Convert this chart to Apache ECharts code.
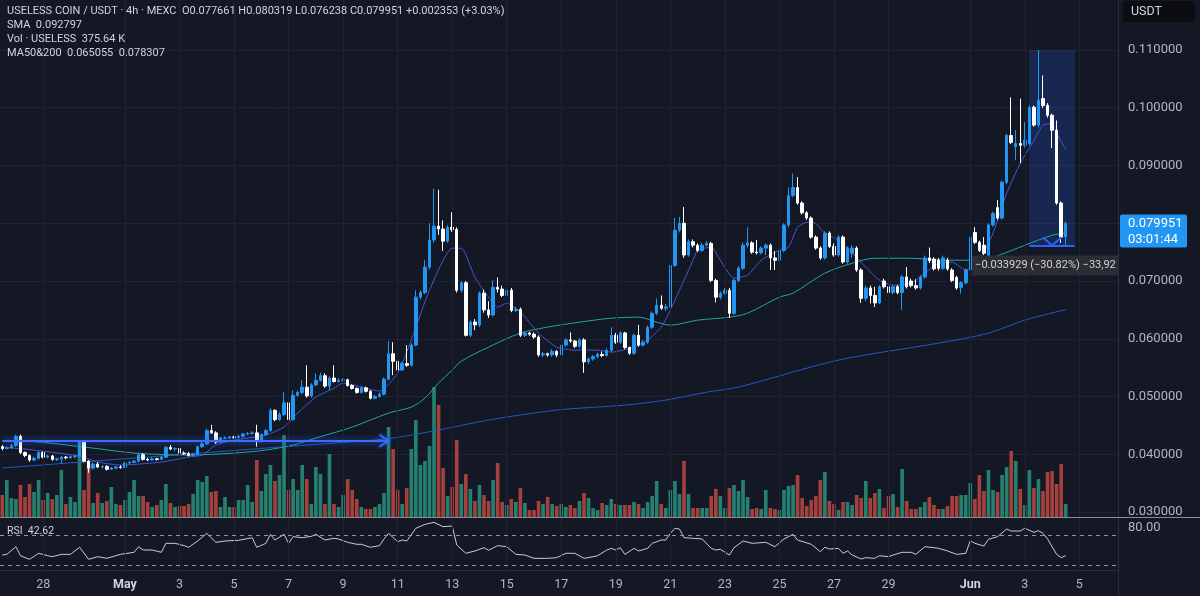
<!DOCTYPE html>
<html><head><meta charset="utf-8">
<script src="https://cdn.jsdelivr.net/npm/echarts@6/dist/echarts.min.js"></script>
<style>html,body{margin:0;padding:0;background:#141824;}#c{width:1200px;height:596px;}</style>
</head><body><div id="c"></div>
<script>
// ---- time axis ----
const startTime = Date.UTC(2025, 3, 26, 12); // first bar: Apr 26 12:00
const barHours = 4;
const emptyBarsRight = 11;
const tickDates  = ['04-28 00:00','05-01 00:00','05-03 00:00','05-05 00:00','05-07 00:00','05-09 00:00','05-11 00:00','05-13 00:00','05-15 00:00','05-17 00:00','05-19 00:00','05-21 00:00','05-23 00:00','05-25 00:00','05-27 00:00','05-29 00:00','06-01 00:00','06-03 00:00','06-05 00:00'];
const tickLabels = ['28','May','3','5','7','9','11','13','15','17','19','21','23','25','27','29','Jun','3','5'];
const priceTicks = {min:0.03, max:0.11, step:0.01};

// ---- candles (4h) ----
const opens = [
.0413,.0410,.0411,.0415,.0431,.0403,.0398,.0390,.0393,.0403,
.0395,.0397,.0391,.0392,.0395,.0394,.0396,.0397,.0421,.0388,
.0376,.0383,.0378,.0379,.0374,.0376,.0378,.0377,.0385,.0386,
.0388,.0399,.0391,.0390,.0392,.0391,.0395,.0412,.0409,.0410,
.0402,.0401,.0398,.0400,.0413,.0418,.0441,.0437,.0421,.0428,
.0428,.0430,.0429,.0431,.0435,.0436,.0437,.0422,.0434,.0441,
.0476,.0460,.0469,.0489,.0460,.0502,.0507,.0516,.0501,.0520,
.0528,.0536,.0518,.0532,.0526,.0528,.0529,.0519,.0514,.0507,
.0515,.0509,.0497,.0500,.0504,.0530,.0574,.0561,.0546,.0557,
.0554,.0589,.0672,.0680,.0724,.0771,.0795,.0790,.0769,.0793,
.0789,.0684,.0697,.0606,.0629,.0624,.0679,.0650,.0641,.0689,
.0686,.0675,.0684,.0649,.0651,.0606,.0610,.0608,.0603,.0572,
.0574,.0572,.0578,.0572,.0589,.0598,.0596,.0587,.0598,.0560,
.0565,.0569,.0573,.0571,.0580,.0606,.0594,.0610,.0585,.0575,
.0606,.0589,.0594,.0620,.0644,.0658,.0653,.0655,.0727,.0788,
.0800,.0745,.0768,.0762,.0753,.0762,.0765,.0701,.0672,.0679,
.0684,.0644,.0701,.0722,.0762,.0766,.0750,.0749,.0757,.0762,
.0740,.0736,.0753,.0797,.0848,.0862,.0835,.0818,.0809,.0776,
.0757,.0740,.0783,.0760,.0745,.0776,.0733,.0748,.0757,.0719,
.0670,.0688,.0675,.0662,.0700,.0690,.0680,.0690,.0680,.0707,
.0700,.0692,.0688,.0707,.0740,.0738,.0736,.0722,.0736,.0719,
.0706,.0689,.0697,.0719,.0784,.0767,.0762,.0743,.0797,.0827,
.0809,.0871,.0952,.0933,.0938,.0935,.0938,.1001,.0970,.1016,
.1004,.0987,.0961,.0835,.077661];
const closes = [
.0410,.0411,.0415,.0431,.0403,.0398,.0390,.0393,.0403,.0395,
.0397,.0391,.0392,.0395,.0394,.0396,.0397,.0421,.0388,.0376,
.0383,.0378,.0379,.0374,.0376,.0378,.0377,.0385,.0386,.0388,
.0399,.0391,.0390,.0392,.0391,.0395,.0412,.0409,.0410,.0402,
.0401,.0398,.0400,.0413,.0418,.0441,.0437,.0421,.0428,.0428,
.0430,.0429,.0431,.0435,.0436,.0437,.0422,.0434,.0441,.0476,
.0460,.0469,.0489,.0460,.0502,.0507,.0516,.0501,.0520,.0528,
.0536,.0518,.0532,.0526,.0528,.0529,.0519,.0514,.0507,.0515,
.0509,.0497,.0500,.0504,.0530,.0574,.0561,.0546,.0557,.0554,
.0589,.0672,.0680,.0724,.0771,.0795,.0790,.0769,.0793,.0789,
.0684,.0697,.0606,.0629,.0624,.0679,.0650,.0641,.0689,.0686,
.0675,.0684,.0649,.0651,.0606,.0610,.0608,.0603,.0572,.0574,
.0572,.0578,.0572,.0589,.0598,.0596,.0587,.0598,.0560,.0565,
.0569,.0573,.0571,.0580,.0606,.0594,.0610,.0585,.0575,.0606,
.0589,.0594,.0620,.0644,.0658,.0653,.0655,.0727,.0788,.0800,
.0745,.0768,.0762,.0753,.0762,.0765,.0701,.0672,.0679,.0684,
.0644,.0701,.0722,.0762,.0766,.0750,.0749,.0757,.0762,.0740,
.0736,.0753,.0797,.0848,.0862,.0835,.0818,.0809,.0776,.0757,
.0740,.0783,.0760,.0745,.0776,.0733,.0757,.0757,.0719,.0670,
.0688,.0675,.0662,.0690,.0690,.0680,.0690,.0680,.0707,.0690,
.0692,.0688,.0707,.0740,.0735,.0721,.0722,.0740,.0721,.0701,
.0688,.0697,.0719,.0776,.0767,.0753,.0748,.0797,.0817,.0809,
.0871,.0952,.0940,.0938,.0935,.0944,.1001,.0970,.1013,.1004,
.0987,.0961,.0835,.0776,.079951];
const lows = [
.0407,.0408,.0409,.0413,.0400,.0395,.0387,.0388,.0391,.0393,
.0393,.0389,.0388,.0384,.0391,.0392,.0393,.0395,.0386,.0368,
.0374,.0376,.0375,.0372,.0373,.0374,.0375,.0376,.0383,.0384,
.0386,.0389,.0388,.0389,.0389,.0390,.0393,.0407,.0405,.0400,
.0399,.0396,.0396,.0398,.0411,.0416,.0435,.0418,.0419,.0426,
.0427,.0427,.0428,.0429,.0433,.0434,.0413,.0420,.0432,.0439,
.0457,.0458,.0466,.0456,.0458,.0500,.0504,.0498,.0498,.0518,
.0526,.0515,.0511,.0524,.0524,.0526,.0517,.0512,.0505,.0505,
.0507,.0495,.0495,.0498,.0502,.0528,.0537,.0543,.0544,.0551,
.0552,.0587,.0668,.0677,.0720,.0766,.0780,.0752,.0766,.0785,
.0680,.0680,.0604,.0603,.0615,.0620,.0645,.0636,.0638,.0680,
.0672,.0672,.0646,.0646,.0603,.0603,.0605,.0600,.0569,.0568,
.0569,.0569,.0568,.0569,.0586,.0593,.0584,.0584,.0541,.0556,
.0562,.0566,.0568,.0569,.0577,.0591,.0591,.0582,.0572,.0572,
.0586,.0586,.0591,.0617,.0641,.0650,.0648,.0652,.0724,.0784,
.0740,.0742,.0758,.0750,.0750,.0760,.0698,.0663,.0668,.0676,
.0636,.0641,.0698,.0719,.0758,.0747,.0746,.0746,.0745,.0719,
.0719,.0733,.0750,.0793,.0845,.0832,.0815,.0806,.0773,.0754,
.0737,.0737,.0757,.0742,.0742,.0730,.0730,.0740,.0716,.0662,
.0665,.0661,.0655,.0660,.0687,.0677,.0677,.0677,.0650,.0687,
.0689,.0685,.0685,.0704,.0731,.0718,.0718,.0719,.0718,.0698,
.0685,.0678,.0694,.0716,.0764,.0750,.0745,.0740,.0794,.0806,
.0806,.0868,.0937,.0909,.0904,.0931,.0935,.0967,.0966,.1000,
.0983,.0930,.0832,.0766,.076238];
const highs = [
.0416,.0414,.0418,.0434,.0434,.0405,.0400,.0396,.0405,.0405,
.0399,.0399,.0394,.0397,.0397,.0398,.0399,.0424,.0423,.0390,
.0386,.0386,.0381,.0381,.0378,.0380,.0381,.0387,.0388,.0390,
.0401,.0402,.0394,.0395,.0394,.0397,.0414,.0416,.0412,.0411,
.0405,.0404,.0402,.0415,.0421,.0444,.0451,.0440,.0430,.0431,
.0432,.0432,.0433,.0437,.0439,.0440,.0451,.0436,.0444,.0480,
.0478,.0473,.0508,.0491,.0511,.0510,.0528,.0554,.0523,.0540,
.0541,.0540,.0535,.0554,.0532,.0532,.0531,.0521,.0516,.0517,
.0517,.0511,.0503,.0507,.0533,.0596,.0594,.0565,.0560,.0589,
.0592,.0684,.0684,.0736,.0800,.0860,.0858,.0805,.0797,.0819,
.0793,.0700,.0700,.0632,.0634,.0682,.0685,.0665,.0701,.0706,
.0692,.0688,.0688,.0655,.0654,.0613,.0612,.0611,.0606,.0577,
.0576,.0582,.0580,.0591,.0601,.0611,.0598,.0601,.0601,.0568,
.0572,.0576,.0578,.0583,.0620,.0610,.0613,.0612,.0586,.0609,
.0624,.0598,.0623,.0647,.0670,.0675,.0660,.0731,.0809,.0811,
.0828,.0772,.0772,.0765,.0766,.0769,.0768,.0704,.0682,.0688,
.0688,.0704,.0726,.0767,.0793,.0769,.0771,.0760,.0765,.0765,
.0752,.0756,.0800,.0862,.0886,.0880,.0838,.0821,.0812,.0779,
.0760,.0786,.0786,.0765,.0779,.0779,.0760,.0762,.0760,.0722,
.0692,.0692,.0690,.0693,.0704,.0693,.0693,.0693,.0710,.0724,
.0704,.0703,.0710,.0744,.0758,.0741,.0740,.0744,.0740,.0722,
.0709,.0700,.0722,.0779,.0793,.0770,.0776,.0800,.0820,.0840,
.0874,.0955,.1018,.0961,.1016,.0975,.1004,.1004,.1100,.1056,
.1008,.0990,.0978,.0838,.080319];
// volume in thousands
const volumesK = [
638,1073,551,522,928,580,957,725,1073,493,
696,522,638,1363,377,580,435,2204,783,1595,
406,696,406,464,870,377,348,493,725,1073,
609,609,435,290,348,493,957,406,290,319,
319,377,667,1073,1015,1189,725,754,290,580,
290,290,493,493,928,435,1653,754,1247,1508,
1044,1218,2378,783,1102,783,1508,1102,377,1450,
1247,377,1827,377,290,638,1102,783,522,290,
232,232,290,377,696,2610,1972,783,377,841,
1972,2813,1508,1624,2059,3770,3248,1421,609,870,
2233,957,1247,812,464,928,638,464,1073,1566,
435,348,522,435,841,406,203,203,464,377,
580,377,319,377,290,348,261,464,696,551,
261,203,406,348,522,377,348,348,348,435,
377,261,435,609,1044,377,261,783,1044,667,
1624,667,261,261,261,261,609,812,609,261,
841,928,754,1073,580,232,261,232,783,261,
232,203,783,899,928,1218,551,319,493,609,
1073,1305,464,377,203,435,435,348,638,551,
1044,551,696,812,261,609,667,290,1392,464,
232,232,290,435,580,348,232,232,319,609,
609,638,638,986,522,1218,754,1363,783,725,
1218,1450,1914,1624,812,348,1363,841,1102,754,
1305,1334,957,1537,375.64];

// ---- indicators: [bar number, value] ----
const smaShort = [[0,0.0412],[5,0.0409],[17,0.03969],[21,0.03865],[26,0.03813],[35,0.03865],[41,0.03952],[44,0.03986],[47,0.04159],[51,0.04246],[58,0.04332],[62,0.04471],[65,0.04713],[69,0.0499],[73,0.05145],[75,0.05232],[80,0.05145],[83,0.05093],[87,0.05405],[90,0.05976],[94,0.06841],[99,0.07567],[101,0.07567],[104,0.07066],[107,0.0672],[109,0.06547],[111,0.06616],[114,0.0646],[118,0.06097],[122,0.05855],[126,0.05803],[131,0.05803],[134,0.05768],[139,0.05855],[142,0.05976],[145,0.06201],[147,0.06495],[149,0.06841],[152,0.0736],[153,0.07533],[156,0.07585],[158,0.0736],[161,0.07048],[164,0.071],[167,0.0736],[171,0.07533],[173,0.07585],[175,0.07931],[177,0.08017],[179,0.08],[181,0.07827],[184,0.07706],[187,0.07481],[190,0.07239],[193,0.07014],[196,0.06927],[200,0.06962],[203,0.07135],[206,0.07308],[209,0.07325],[212,0.07187],[215,0.0736],[218,0.07827],[221,0.08519],[224,0.09038],[227,0.09436],[229,0.09696],[231,0.0973],[232,0.09557],[234,0.092797]];
const ma50 = [[0,0.04228],[4,0.04228],[18,0.04125],[29,0.04021],[41,0.03986],[51,0.04021],[58,0.04073],[64,0.04159],[69,0.0428],[77,0.04471],[85,0.04713],[90,0.04817],[93,0.04972],[96,0.05232],[99,0.05457],[101,0.05612],[107,0.05855],[114,0.06097],[120,0.06201],[127,0.06287],[134,0.06356],[140,0.06374],[144,0.06287],[147,0.06235],[153,0.06322],[160,0.06374],[164,0.06443],[171,0.0672],[174,0.06789],[181,0.07135],[187,0.07308],[192,0.07394],[200,0.07394],[207,0.0736],[214,0.0736],[218,0.07412],[225,0.07619],[231,0.07792],[234,0.078307]];
const ma200 = [[0,0.03762],[29,0.03934],[58,0.04107],[73,0.04194],[85,0.04272],[96,0.04419],[107,0.04592],[122,0.04765],[137,0.04851],[146,0.04938],[155,0.05076],[162,0.05163],[184,0.0563],[206,0.05924],[217,0.06097],[225,0.06322],[234,0.065055]];
const rsi = [[0,43.3],[1,44.2],[3,54.4],[4,42.4],[6,37.6],[8,45.6],[10,42.4],[11,41.1],[13,44.2],[15,44.2],[17,53.6],[19,37.6],[21,41.1],[23,38.9],[25,42.4],[26,44.2],[29,46.9],[30,54.4],[31,50.0],[33,50.0],[35,46.9],[36,58.9],[38,58.9],[40,55.8],[41,53.6],[43,62.0],[45,72.2],[47,60.2],[49,62.0],[52,62.9],[55,66.4],[56,53.6],[58,58.9],[59,70.9],[60,63.3],[62,70.9],[63,58.9],[64,67.8],[66,66.4],[68,68.2],[69,70.9],[71,63.3],[73,65.6],[74,64.7],[76,60.2],[78,57.6],[79,57.6],[81,53.6],[83,55.8],[84,64.7],[85,72.2],[87,61.1],[88,63.3],[89,62.0],[91,78.9],[93,84.2],[95,86.9],[97,81.1],[99,82.0],[100,56.7],[102,45.6],[104,48.7],[106,53.1],[107,49.6],[109,55.8],[111,54.4],[113,44.2],[115,43.3],[117,38.9],[120,38.9],[122,39.8],[124,45.6],[126,45.6],[128,38.9],[130,41.1],[131,42.4],[133,50.0],[134,52.2],[135,50.0],[136,53.1],[137,44.2],[139,52.2],[140,48.7],[142,52.2],[143,58.9],[145,63.3],[146,63.3],[147,72.2],[148,78.9],[149,78.0],[150,66.4],[152,65.6],[154,64.7],[156,52.2],[157,50.0],[158,50.9],[160,43.3],[161,53.1],[163,62.0],[165,58.9],[168,60.2],[170,54.4],[172,64.7],[174,70.9],[175,63.3],[178,57.6],[180,47.8],[181,53.6],[182,51.3],[184,52.2],[185,45.6],[186,48.7],[187,43.3],[189,38.0],[190,39.8],[192,38.9],[193,42.4],[195,41.1],[196,43.3],[198,46.9],[200,46.9],[201,44.2],[203,54.4],[205,53.1],[206,52.2],[208,48.7],[210,44.2],[212,45.6],[213,62.4],[214,58.9],[216,55.3],[217,64.2],[219,67.8],[221,78.0],[222,75.3],[224,75.3],[225,78.9],[227,73.6],[228,75.8],[229,72.2],[230,64.7],[232,44.2],[233,39.8],[234,42.62]];
const rsiBands = [70, 30];

// ---- drawings (in bar numbers / prices) ----
const rangeTool = {from:226, to:236, mid:231, headL:229, headR:233, top:0.110085, bottom:0.076156};
const hArrow = {from:0, to:85, head:83, price:0.04234};
const headSize = {price:0.00104, range:0.00139};

// ---- legend texts ----
const symbolTitle = 'USELESS COIN / USDT · 4h · MEXC';
const ohlc = {O:'0.077661', H:'0.080319', L:'0.076238', C:'0.079951', chg:'+0.002353 (+3.03%)'};
const smaLabel = ['SMA','0.092797'];
const volLabel = ['Vol · USELESS','375.64 K'];
const maLabel = ['MA50&200','0.065055','0.078307'];
const rsiLabel = ['RSI','42.62'];
const rangeText = '\u22120.033929 (\u221230.82%) \u221233,92';
const lastPrice = 0.079951, countdown = '03:01:44';

// ---- build ----
const pad = n => String(n).padStart(2,'0');
const categories = [];
for (let i = 0; i < opens.length + emptyBarsRight; i++) {
  const d = new Date(startTime + i * barHours * 3600e3);
  categories.push(pad(d.getUTCMonth()+1) + '-' + pad(d.getUTCDate()) + ' ' + pad(d.getUTCHours()) + ':00');
}
const candles = opens.map((o,i) => [o, closes[i], lows[i], highs[i]]);
const UP = '#2196f3', DOWN = '#ffffff';
const volData = volumesK.map((v,i) => ({value:v, itemStyle:{color: closes[i] >= opens[i] ? '#26806f' : '#a4403d'}}));

const FONT = 'Roboto, "Liberation Sans", sans-serif';
const chart = echarts.init(document.getElementById('c'), null, {renderer:'canvas'});

const xa = k => ({
  type:'category', gridIndex:k, data:categories, boundaryGap:true, show:k===3,
  axisLine:{show:false}, axisTick:{show:false}, splitLine:{show:false},
  axisLabel: k===3 ? {
    interval:(idx,val) => tickDates.indexOf(val) >= 0,
    margin:8,
    formatter: val => { const t = tickLabels[tickDates.indexOf(val)]; return /^[A-Z]/.test(t) ? '{m|'+t+'}' : '{d|'+t+'}'; },
    rich:{m:{fontWeight:'bold', color:'#d1d4dc', fontSize:12.5, fontFamily:FONT}, d:{color:'#b2b5be', fontSize:12.5, fontFamily:FONT}}
  } : {show:false}
});

const seg = (a, b, style) => [{coord:a, lineStyle:style}, {coord:b}];
const blue = {color:'#2962ff', width:2, type:'solid'};
const glow = {color:'#3b6dff', width:2, type:'solid', shadowBlur:6, shadowColor:'rgba(41,98,255,0.9)'};

const option = {
  animation:false,
  backgroundColor:'#141824',
  textStyle:{fontFamily:FONT},
  grid:[
    {left:0, right:82, top:50, height:462},
    {left:0, right:82, top:380, height:137},
    {left:0, right:82, top:512.5, height:60},
    {left:0, right:82, top:0, height:570}
  ],
  xAxis:[xa(0), xa(1), xa(2), xa(3)],
  yAxis:[
    {gridIndex:0, type:'value', position:'right', min:priceTicks.min, max:priceTicks.max, interval:priceTicks.step,
     axisLine:{show:false}, axisTick:{show:false}, splitLine:{lineStyle:{color:'#1f2331'}},
     axisLabel:{color:'#b2b5be', fontSize:13, margin:10, fontFamily:FONT, formatter:v => v.toFixed(6)}},
    {gridIndex:1, type:'value', min:0, max:3973, show:false},
    {gridIndex:2, type:'value', position:'right', min:20, max:100, interval:20,
     axisLine:{show:false}, axisTick:{show:false}, splitLine:{show:false},
     axisLabel:{color:'#b2b5be', fontSize:13, margin:10, fontFamily:FONT, formatter:v => v === 80 ? '80.00' : ''}},
    {gridIndex:3, type:'value', min:0, max:1, show:false}
  ],
  series:[
    {type:'line', xAxisIndex:3, yAxisIndex:3, data:[], z:0, silent:true,
     markLine:{silent:true, symbol:['none','none'], label:{show:false}, emphasis:{disabled:true},
       lineStyle:{color:'#1f2331', type:'solid', width:1}, data: tickDates.map(d => ({xAxis:d}))}},
    {type:'bar', xAxisIndex:1, yAxisIndex:1, data:volData, barWidth:'80%', z:1, silent:true},
    {type:'line', xAxisIndex:0, yAxisIndex:0, data:ma200, showSymbol:false, smooth:0.3, z:2, silent:true,
     lineStyle:{color:'#2655c4', width:1}},
    {type:'line', xAxisIndex:0, yAxisIndex:0, data:ma50, showSymbol:false, smooth:0.3, z:2, silent:true,
     lineStyle:{color:'#22a69e', width:1}},
    {type:'line', xAxisIndex:0, yAxisIndex:0, data:smaShort, showSymbol:false, smooth:0.2, z:2, silent:true,
     lineStyle:{color:'#4356d8', width:1}},
    {type:'candlestick', xAxisIndex:0, yAxisIndex:0, data:candles, barWidth:3, z:3, clip:false, silent:true,
     itemStyle:{color:UP, color0:DOWN, borderColor:UP, borderColor0:DOWN, borderWidth:1},
     markArea:{silent:true, itemStyle:{color:'rgba(41,98,255,0.2)'},
       data:[[{coord:[rangeTool.from, rangeTool.top]}, {coord:[rangeTool.to, rangeTool.bottom]}]]},
     markLine:{silent:true, symbol:['none','none'], label:{show:false}, emphasis:{disabled:true}, lineStyle:blue,
       data:[
         seg([hArrow.from, hArrow.price], [hArrow.to, hArrow.price], glow),
         seg([hArrow.head, hArrow.price + headSize.price], [hArrow.to, hArrow.price], glow),
         seg([hArrow.head, hArrow.price - headSize.price], [hArrow.to, hArrow.price], glow),
         seg([rangeTool.from, rangeTool.top], [rangeTool.to, rangeTool.top], blue),
         seg([rangeTool.from, rangeTool.bottom], [rangeTool.to, rangeTool.bottom], blue),
         seg([rangeTool.mid, rangeTool.top], [rangeTool.mid, rangeTool.bottom], blue),
         seg([rangeTool.headL, rangeTool.bottom + headSize.range], [rangeTool.mid, rangeTool.bottom], blue),
         seg([rangeTool.headR, rangeTool.bottom + headSize.range], [rangeTool.mid, rangeTool.bottom], blue)
       ]}},
    {type:'line', xAxisIndex:2, yAxisIndex:2, data:rsi, showSymbol:false, z:2, silent:true,
     lineStyle:{color:'#c9ccd4', width:1},
     markLine:{silent:true, symbol:['none','none'], label:{show:false}, emphasis:{disabled:true},
       lineStyle:{color:'#9598a1', type:[4,4], width:1}, data: rsiBands.map(v => ({yAxis:v}))}}
  ]
};
chart.setOption(option);

// ---- overlay texts positioned through the chart's scales ----
const yLast = chart.convertToPixel({yAxisIndex:0}, lastPrice);
const xMid = chart.convertToPixel({xAxisIndex:0}, rangeTool.mid);
const yBot = chart.convertToPixel({yAxisIndex:0}, rangeTool.bottom);
const boxL = xMid - 80;
const txt = (x, y, text, rich, extra) => ({type:'text', x, y, z:100, silent:true,
  style:Object.assign({text, rich, fontFamily:FONT, fontSize:11, fill:'#d1d4dc', verticalAlign:'middle'}, extra||{})});
const R = (c, fs) => ({color:c, fontSize:fs, fontFamily:FONT});
const lbl = '#d1d4dc';
const L = 11;
chart.setOption({graphic:[
  {type:'line', z:90, silent:true, shape:{x1:1118.5, y1:0, x2:1118.5, y2:596}, style:{stroke:'#2a2e39', lineWidth:1}},
  {type:'line', z:90, silent:true, shape:{x1:0, y1:517.5, x2:1200, y2:517.5}, style:{stroke:'#8a8d96', lineWidth:1}},
  {type:'line', z:90, silent:true, shape:{x1:0, y1:570.5, x2:1118, y2:570.5}, style:{stroke:'#2a2e39', lineWidth:1}},
  txt(7, 11, '{t|'+symbolTitle+'  O}{v|'+ohlc.O+' }{t|H}{v|'+ohlc.H+' }{t|L}{v|'+ohlc.L+' }{t|C}{v|'+ohlc.C+' '+ohlc.chg+'}',
      {t:R(lbl,L), v:R('#2196f3',L)}),
  txt(7, 25, '{t|'+smaLabel[0]+'  }{s|'+smaLabel[1]+'}', {t:R(lbl,L), s:R('#4a63dd',L)}),
  txt(7, 39, '{t|'+volLabel[0]+'  }{g|'+volLabel[1]+'}', {t:R(lbl,L), g:R('#26a69a',L)}),
  txt(7, 53, '{t|'+maLabel[0]+'  }{b|'+maLabel[1]+'  }{c|'+maLabel[2]+'}', {t:R(lbl,L), b:R('#3d6ee8',L), c:R('#26c6da',L)}),
  txt(7, 531, '{t|'+rsiLabel[0]+'  }{w|'+rsiLabel[1]+'}', {t:R('#b2b5be',10.5), w:R('#e6e8ee',10.5)}),
  {type:'rect', z:95, silent:true, shape:{x:1123, y:1, width:72, height:21, r:3}, style:{fill:'#0b0d13'}},
  txt(1131, 12, 'USDT', null, {fontSize:12.5}),
  {type:'rect', z:95, silent:true, shape:{x:1120, y:yLast-9, width:67, height:33, r:2}, style:{fill:'#2196f3'}},
  txt(1128, yLast, lastPrice.toFixed(6), null, {fill:'#ffffff', fontSize:13}),
  txt(1128, yLast+16, countdown, null, {fill:'#ffffff', fontSize:13}),
  {type:'rect', z:95, silent:true, shape:{x:boxL, y:yBot+10, width:1118-boxL, height:20}, style:{fill:'rgba(44,46,53,0.95)'}},
  txt(boxL+3, yBot+20, rangeText, null, {fontSize:11, width:1118-boxL-3, overflow:'truncate', ellipsis:''})
]});
</script></body></html>
